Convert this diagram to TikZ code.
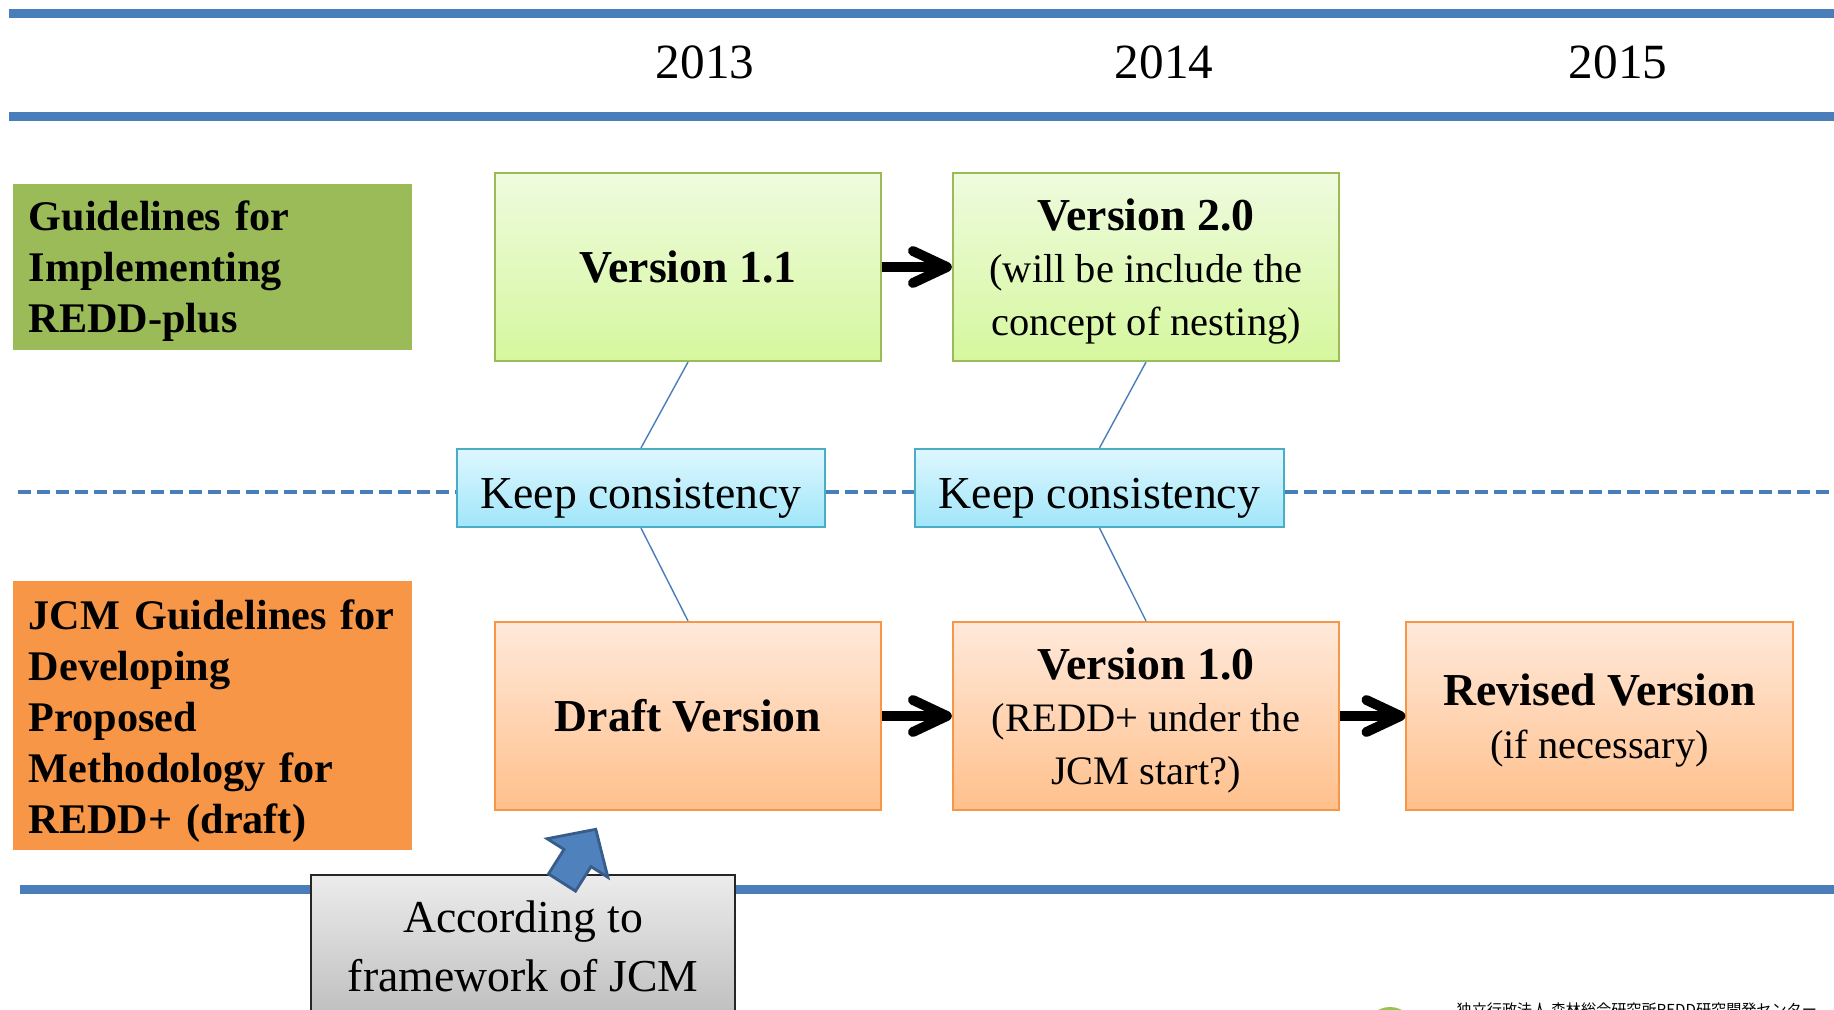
\documentclass[tikz,border=0pt]{standalone}
\usepackage{fontspec}
\setmainfont{Liberation Serif}
\newfontfamily\jpfont{Noto Sans CJK JP}
\usetikzlibrary{arrows.meta, positioning}

\definecolor{barblue}{RGB}{74,126,187}
\definecolor{lblgreen}{RGB}{155,187,89}
\definecolor{lblorange}{RGB}{247,150,70}
\definecolor{greentop}{RGB}{238,251,222}
\definecolor{greenbot}{RGB}{214,247,158}
\definecolor{orangetop}{RGB}{255,233,218}
\definecolor{orangebot}{RGB}{255,192,140}
\definecolor{kctop}{RGB}{222,247,254}
\definecolor{kcbot}{RGB}{160,230,250}
\definecolor{kcline}{RGB}{75,172,198}
\definecolor{graytop}{RGB}{236,236,236}
\definecolor{graybot}{RGB}{190,190,190}
\definecolor{arrowblue}{RGB}{79,129,189}
\definecolor{arrowdark}{RGB}{56,93,138}
\definecolor{logogreen}{RGB}{150,196,80}

\begin{document}
\begin{tikzpicture}[x=0.01cm, y=-0.01cm,
    bar/.style={barblue, line width=2.6pt},
    yearlbl/.style={font=\fontsize{14}{17}\selectfont},
    rowlbl/.style={minimum width=3.99cm, text width=3.67cm, inner xsep=0.16cm,
        inner ysep=0pt, align=left, font=\bfseries\fontsize{12}{14.5}\selectfont},
    verbox/.style={line width=0.6pt, minimum width=3.86cm, minimum height=1.88cm,
        align=center, font=\fontsize{11.5}{15}\selectfont},
    greenbox/.style={verbox, draw=lblgreen, top color=greentop, bottom color=greenbot},
    orangebox/.style={verbox, draw=lblorange, top color=orangetop, bottom color=orangebot},
    keepbox/.style={draw=kcline, line width=0.6pt, top color=kctop, bottom color=kcbot,
        minimum width=3.68cm, minimum height=0.78cm, text height=14.3pt, inner ysep=0pt,
        font=\fontsize{13}{15}\selectfont},
    link/.style={barblue, line width=0.4pt},
    dashes/.style={barblue, line width=1.1pt, dash pattern=on 3.7pt off 1.7pt},
    goes/.style={line width=2.8pt, -{Straight Barb[round, length=3.4mm, width=3.2mm]}}
]
    \useasboundingbox (0,0) rectangle (1834,1010);
    \clip (0,0) rectangle (1834,1010);

    % timeline header
    \draw[bar] (9,13.5) -- (1834,13.5);
    \draw[bar] (9,116.5) -- (1834,116.5);
    \node[yearlbl] (y13) at (705,62) {2013};
    \node[yearlbl] (y14) at (1164,62) {2014};
    \node[yearlbl] (y15) at (1618,62) {2015};

    % row labels
    \node[rowlbl, fill=lblgreen, minimum height=1.66cm, text height=11pt] (gl) at (212.5,267)
        {Guidelines for\\Implementing\\REDD-plus};
    \node[rowlbl, fill=lblorange, minimum height=2.69cm, text height=11.7pt] (jcm) at (212.5,715.5)
        {JCM Guidelines for\\Developing\\Proposed\\Methodology for\\REDD+ (draft)};

    % guideline versions
    \node[greenbox] (v11) at (688,267) {\textbf{\fontsize{13}{15}\selectfont Version 1.1}};
    \node[greenbox, text depth=0pt] (v20) at (1146,267)
        {\textbf{\fontsize{13}{15}\selectfont Version 2.0}\\(will be include the\\concept of nesting)};

    % methodology versions
    \node[orangebox] (draft) at (688,716) {\textbf{\fontsize{13}{15}\selectfont Draft Version}};
    \node[orangebox, text depth=0pt] (v10) at (1146,716)
        {\textbf{\fontsize{13}{15}\selectfont Version 1.0}\\(REDD+ under the\\JCM start?)};
    \node[orangebox, text depth=0pt] (rev) at (1599.5,716)
        {\textbf{\fontsize{13}{15}\selectfont Revised Version}\\(if necessary)};

    % consistency
    \node[keepbox] (kc1) at (641,488) {Keep consistency};
    \node[keepbox] (kc2) at (1099.5,488) {Keep consistency};
    \coordinate (dl) at (18,492);
    \coordinate (dr) at (1834,492);
    \draw[dashes] (dl) -- (dl -| kc1.west);
    \draw[dashes] (kc1.east |- dl) -- (kc2.west |- dl);
    \draw[dashes] (kc2.east |- dl) -- (dr);

    \draw[link] (v11.south) -- (kc1.north);
    \draw[link] (kc1.south) -- (draft.north);
    \draw[link] (v20.south) -- (kc2.north);
    \draw[link] (kc2.south) -- (v10.north);

    \draw[goes] (v11.east) -- (v20.west);
    \draw[goes] (draft.east) -- (v10.west);
    \draw[goes] (v10.east) -- (rev.west);

    % bottom
    \draw[bar] (20,889.5) -- (1834,889.5);
    \node[draw=black!85, line width=0.6pt, top color=graytop, bottom color=graybot,
        minimum width=4.24cm, minimum height=1.43cm, align=center,
        font=\fontsize{13}{16.8}\selectfont] (fw) at (523,946.5)
        {According to\\framework of JCM};
    \draw[fill=arrowblue, draw=arrowdark, line width=0.8pt, line join=miter]
        (548.5,873.9) -- (564,849.4) -- (547.1,838.7) -- (595.8,829.3)
        -- (607.9,877.3) -- (591,866.6) -- (575.5,891.1) -- cycle;

    \fill[logogreen] (1390,1032) circle (25);
    \node[anchor=north west, inner sep=0pt, font=\jpfont\fontsize{4.3}{5}\selectfont] (ffpri)
        at (1456,1002) {独立行政法人 森林総合研究所REDD研究開発センター};
\end{tikzpicture}
\end{document}
